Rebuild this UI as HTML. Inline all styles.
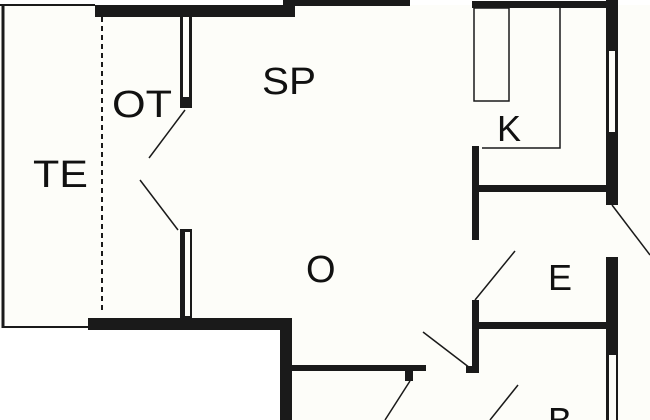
<!DOCTYPE html>
<html><head><style>
html,body{margin:0;padding:0;background:#fff}
svg{display:block}
text{font-family:"Liberation Sans",sans-serif;fill:#111}
</style></head><body>
<svg width="650" height="420" viewBox="0 0 650 420">
<rect x="0" y="0" width="650" height="420" fill="#fdfdf9"/>
<rect x="0" y="0" width="650" height="5" fill="#fff"/>
<rect x="0" y="329" width="280" height="91" fill="#fff"/>
<g fill="#1a1a1a" stroke="none">
<rect x="95" y="5" width="200" height="12"/>
<rect x="283" y="0" width="12" height="17"/>
<rect x="295" y="0" width="115" height="6"/>
<rect x="472" y="1" width="140" height="7"/>
<rect x="606" y="0" width="12" height="205"/>
<rect x="606" y="257" width="12" height="163"/>
<rect x="180" y="16" width="12" height="92"/>
<rect x="180" y="229" width="12" height="90"/>
<rect x="88" y="318" width="204" height="12"/>
<rect x="280" y="318" width="12" height="102"/>
<rect x="292" y="365" width="134" height="6"/>
<rect x="405" y="371" width="8" height="10"/>
<rect x="472" y="146" width="7" height="94"/>
<rect x="479" y="185" width="128" height="7"/>
<rect x="472" y="300" width="7" height="73"/>
<rect x="466" y="366" width="10" height="7"/>
<rect x="479" y="322" width="128" height="7"/>
</g>
<g fill="#fdfdf9">
<rect x="183" y="17" width="6" height="80"/>
<rect x="185" y="232" width="5" height="84"/>
<rect x="609" y="51" width="6" height="81"/>
<rect x="609" y="355" width="7" height="65"/>
</g>
<g stroke="#1a1a1a" fill="none">
<line x1="3" y1="5" x2="3" y2="328" stroke-width="3"/>
<line x1="0" y1="5" x2="95" y2="5" stroke-width="2"/>
<line x1="3" y1="327" x2="88" y2="327" stroke-width="2"/>
<line x1="102" y1="17" x2="102" y2="312" stroke-width="2" stroke-dasharray="5,4"/>
<line x1="185" y1="110" x2="149" y2="158" stroke-width="1.5"/>
<line x1="140" y1="180" x2="178" y2="230" stroke-width="1.5"/>
<rect x="474" y="8" width="35" height="93" stroke-width="1.5"/>
<polyline points="560,8 560,148 482,148" stroke-width="1.5"/>
<line x1="612" y1="205" x2="650" y2="255" stroke-width="1.5"/>
<line x1="475" y1="300" x2="515" y2="251" stroke-width="1.5"/>
<line x1="423" y1="332" x2="470" y2="368" stroke-width="1.5"/>
<line x1="410" y1="381" x2="385" y2="420" stroke-width="1.5"/>
<line x1="518" y1="385" x2="490" y2="420" stroke-width="1.5"/>
</g>
<text x="262" y="94" font-size="38" textLength="54" lengthAdjust="spacingAndGlyphs">SP</text>
<text x="112" y="117" font-size="38" textLength="60" lengthAdjust="spacingAndGlyphs">OT</text>
<text x="33" y="187" font-size="38" textLength="55" lengthAdjust="spacingAndGlyphs">TE</text>
<text x="497" y="141" font-size="36">K</text>
<text x="306" y="282" font-size="38">O</text>
<text x="548" y="290" font-size="36">E</text>
<text x="548" y="433" font-size="36">B</text>
</svg>
</body></html>
